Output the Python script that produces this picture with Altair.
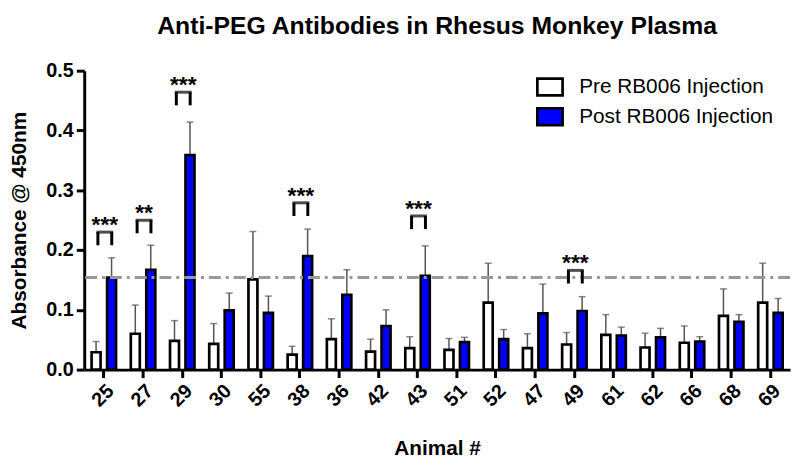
import altair as alt
import pandas as pd

animals = ["25", "27", "29", "30", "55", "38", "36", "42", "43",
           "51", "52", "47", "49", "61", "62", "66", "68", "69"]
pre_mean = [0.029, 0.060, 0.048, 0.043, 0.151, 0.025, 0.051, 0.030, 0.036,
            0.033, 0.112, 0.036, 0.042, 0.058, 0.037, 0.045, 0.090, 0.112]
pre_sd = [0.018, 0.048, 0.034, 0.034, 0.080, 0.014, 0.034, 0.021, 0.019,
          0.019, 0.066, 0.024, 0.020, 0.034, 0.024, 0.028, 0.045, 0.066]
post_mean = [0.154, 0.167, 0.359, 0.099, 0.095, 0.190, 0.125, 0.073, 0.157,
             0.046, 0.051, 0.094, 0.098, 0.057, 0.054, 0.047, 0.080, 0.095]
post_sd = [0.033, 0.041, 0.055, 0.029, 0.028, 0.045, 0.042, 0.027, 0.050,
           0.008, 0.016, 0.049, 0.024, 0.014, 0.015, 0.008, 0.012, 0.024]

groups = ["Pre RB006 Injection", "Post RB006 Injection"]
group_colors = ["#ffffff", "#0000ff"]

threshold = [0.154]

sig_animals = ["25", "27", "29", "38", "43", "49"]
sig_labels = ["***", "**", "***", "***", "***", "***"]
sig_heights = [0.230, 0.250, 0.464, 0.279, 0.257, 0.166]
bracket_depth = 0.022

y_ticks = [0.0, 0.05, 0.1, 0.15, 0.2, 0.25, 0.3, 0.35, 0.4, 0.45, 0.5]

FONT = "Liberation Sans"
YTITLE = "Absorbance @ 450nm"

rows = []
for i, a in enumerate(animals):
    rows.append({"animal": a, "group": groups[0], "mean": pre_mean[i],
                 "top": pre_mean[i] + pre_sd[i]})
    rows.append({"animal": a, "group": groups[1], "mean": post_mean[i],
                 "top": post_mean[i] + post_sd[i]})
df = pd.DataFrame(rows)

sig = pd.DataFrame({"animal": sig_animals, "label": sig_labels, "y": sig_heights})
sig["y_leg"] = sig["y"] - bracket_depth

thr = pd.DataFrame({"y": threshold})

x_enc = alt.X(
    "animal:N", sort=animals,
    scale=alt.Scale(paddingInner=0.376, paddingOuter=0.188),
    axis=alt.Axis(title="Animal #", labelAngle=-45, titlePadding=28),
)
xoff = alt.XOffset("group:N", sort=groups, scale=alt.Scale(paddingInner=0.42))
yscale = alt.Scale(domain=[0, 0.5], nice=False)
yaxis = alt.Axis(
    values=y_ticks,
    labelExpr="round(datum.value*100) % 10 === 0 ? format(datum.value, '.1f') : ''",
    titlePadding=17,
)

base = alt.Chart(df)

errors = base.mark_rule(color="#555555", strokeWidth=1.5).encode(
    x=x_enc, xOffset=xoff,
    y=alt.Y("mean:Q", scale=yscale, axis=yaxis, title=YTITLE),
    y2="top:Q",
)
caps = base.mark_tick(color="#555555", size=7, thickness=1.5).encode(
    x=x_enc, xOffset=xoff,
    y=alt.Y("top:Q", scale=yscale, title=YTITLE),
)
bars = base.mark_bar(stroke="black", strokeWidth=2.7).encode(
    x=x_enc, xOffset=xoff,
    y=alt.Y("mean:Q", scale=yscale, title=YTITLE),
    fill=alt.Fill(
        "group:N", sort=groups,
        scale=alt.Scale(domain=groups, range=group_colors),
        legend=alt.Legend(
            title=None, orient="none", legendX=460, legendY=6,
            labelFont=FONT, labelFontSize=21, labelColor="black", labelLimit=0,
            symbolType="M-1.5,-1H1.5V1H-1.5Z", symbolSize=289,
            symbolStrokeColor="black", symbolStrokeWidth=2.7,
            rowPadding=1, labelOffset=19,
        ),
    ),
)
thr_line = alt.Chart(thr).mark_rule(
    color="#999999", strokeWidth=3, strokeDash=[12, 5, 3, 5]
).encode(y=alt.Y("y:Q", scale=yscale, title=YTITLE))

sbase = alt.Chart(sig)
leg_l = sbase.mark_rule(color="black", strokeWidth=3, xOffset=-6).encode(
    x=x_enc, y=alt.Y("y:Q", scale=yscale, title=YTITLE), y2="y_leg:Q")
leg_r = sbase.mark_rule(color="black", strokeWidth=3, xOffset=8).encode(
    x=x_enc, y=alt.Y("y:Q", scale=yscale, title=YTITLE), y2="y_leg:Q")
brk = sbase.mark_tick(color="black", size=17, thickness=3, xOffset=1).encode(
    x=x_enc, y=alt.Y("y:Q", scale=yscale, title=YTITLE))
stars = sbase.mark_text(
    font=FONT, fontSize=23, fontWeight="bold", baseline="alphabetic",
    color="black", xOffset=1
).encode(x=x_enc, y=alt.Y("y:Q", scale=yscale, title=YTITLE), text="label:N")

chart = alt.layer(errors, caps, bars, thr_line, leg_l, leg_r, brk, stars).properties(
    width=713, height=302,
    padding={"left": 0, "top": 4, "right": 0, "bottom": 0},
    title=alt.TitleParams(
        "Anti-PEG Antibodies in Rhesus Monkey Plasma",
        font=FONT, fontSize=25, fontWeight="bold", color="black",
        anchor="middle", offset=22,
    ),
).configure_view(stroke=None).configure_axis(
    grid=False, domainColor="black", domainWidth=3,
    tickColor="black", tickWidth=3, tickSize=8,
    labelFont=FONT, labelFontSize=20, labelFontWeight="bold", labelColor="black",
    labelPadding=3,
    titleFont=FONT, titleFontSize=21, titleFontWeight="bold", titleColor="black",
)

chart.save("out.html", embed_options={"renderer": "svg", "actions": False})
